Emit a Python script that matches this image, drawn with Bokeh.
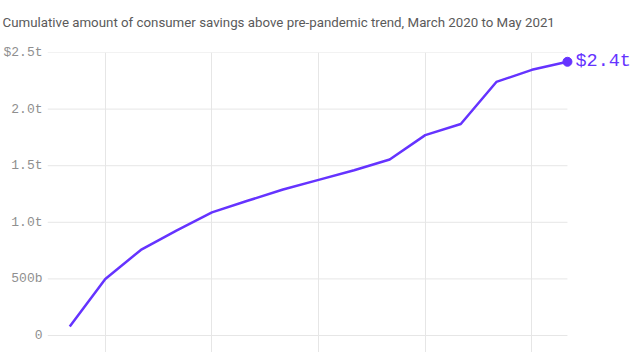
from bokeh.plotting import figure
from bokeh.models import FixedTicker, Range1d, Label, Title
from bokeh.embed import file_html
from bokeh.resources import INLINE

# ---- data ----
months = ["Mar 2020", "Apr 2020", "May 2020", "Jun 2020", "Jul 2020", "Aug 2020",
          "Sep 2020", "Oct 2020", "Nov 2020", "Dec 2020", "Jan 2021", "Feb 2021",
          "Mar 2021", "Apr 2021", "May 2021"]
savings_t = [0.08, 0.50, 0.756, 0.927, 1.088, 1.19, 1.29, 1.375, 1.46, 1.555,
             1.77, 1.868, 2.24, 2.347, 2.418]
y_ticks = [0, 0.5, 1.0, 1.5, 2.0, 2.5]
y_tick_labels = ["0", "500b", "1.0t", "1.5t", "2.0t", "$2.5t"]
x_grid_months = ["Apr 2020", "Jul 2020", "Oct 2020", "Jan 2021", "Apr 2021"]
end_label = "$2.4t"
title_text = "Cumulative amount of consumer savings above pre-pandemic trend, March 2020 to May 2021"

PURPLE = "#6533ff"
GRID = "#e6e6e6"

x = list(range(len(months)))
x_start, x_end = -0.626, 15.83

p = figure(width=632, height=352, output_backend="svg", toolbar_location=None,
           x_range=Range1d(x_start, x_end), y_range=Range1d(-0.15, 2.5),
           min_border_left=46, min_border_right=0, min_border_bottom=0, min_border_top=52)
p.title = None

p.outline_line_color = None
p.background_fill_color = "white"
p.border_fill_color = "white"

# spacer between title and plot area (closest panel to the frame)
p.add_layout(Title(text=" ", text_font_size="1px", standoff=20), "above")
# title
p.add_layout(Title(text=title_text, align="left", vertical_align="bottom", offset=-45,
                   standoff=0, text_font="Roboto", text_font_size="13.3px",
                   text_font_style="normal", text_color="#5a5a5a"), "above")

# axes
p.xaxis.visible = False
yax = p.yaxis[0]
yax.ticker = FixedTicker(ticks=y_ticks)
yax.major_label_overrides = {t: l for t, l in zip(y_ticks, y_tick_labels)}
yax.axis_line_color = None
yax.major_tick_line_color = None
yax.minor_tick_line_color = None
yax.major_tick_out = 0
yax.major_tick_in = 0
yax.major_label_standoff = 5
yax.major_label_text_font = "Liberation Mono"
yax.major_label_text_font_size = "13px"
yax.major_label_text_color = "#8f8f8f"

# grids
p.ygrid.visible = False
p.xgrid.ticker = FixedTicker(ticks=[months.index(m) for m in x_grid_months])
p.xgrid.grid_line_color = GRID
p.xgrid.grid_line_width = 1

p.segment(x0=[x_start] * len(y_ticks), y0=y_ticks, x1=[x[-1]] * len(y_ticks), y1=y_ticks,
          line_color=GRID, line_width=1, level="underlay")

# series
p.line(x, savings_t, line_color=PURPLE, line_width=2.5)
p.scatter([x[-1]], [savings_t[-1]], size=9, fill_color=PURPLE, line_color=PURPLE)

p.add_layout(Label(x=x[-1], y=savings_t[-1], text=end_label, x_offset=8,
                   text_baseline="middle", text_font="Liberation Mono",
                   text_font_size="18.5px", text_color=PURPLE))

open("out.html", "w").write(file_html(p, INLINE))
